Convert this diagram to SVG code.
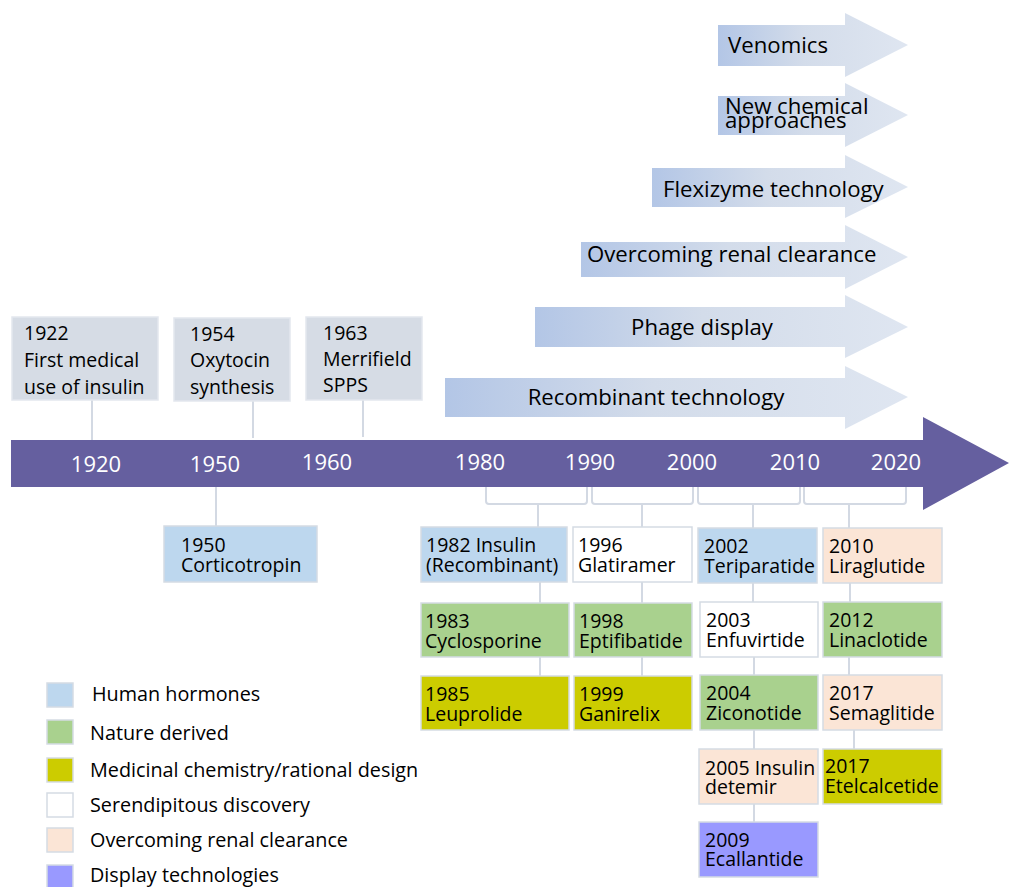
<svg xmlns="http://www.w3.org/2000/svg" width="1009" height="887" viewBox="0 0 1009 887">
<defs>
<linearGradient id="ag" x1="0" y1="0" x2="1" y2="0">
<stop offset="0" stop-color="#b3c6e6"/>
<stop offset="0.45" stop-color="#d3dcea"/>
<stop offset="1" stop-color="#dfe6f1"/>
</linearGradient>
<style>
.t{font-family:"Open Sans","Liberation Sans",sans-serif;font-size:19.5px;fill:#000}
.lg{font-size:19.8px}
.ar{font-size:22.2px}
.yr{font-family:"Open Sans","Liberation Sans",sans-serif;font-size:22px;fill:#fff;text-anchor:middle}
.box{stroke:#d5dbe4;stroke-width:1.5}
.ms{fill:#d6dce5;stroke:#e3e7ee;stroke-width:1.5}
.hh{fill:#bdd7ee}.nd{fill:#a9d18e}.mc{fill:#cccc00}.sd{fill:#ffffff}.rc{fill:#fbe5d6}.dt{fill:#9999ff}
.conn{stroke:#d3d9e3;stroke-width:2;fill:none}
.arrow{fill:url(#ag)}
</style>
</defs>
<rect width="1009" height="887" fill="#fff"/>

<g id="connectors">
<path class="conn" d="M92,400V440M253,401V438M363,400V437M216,487V526"/>
<path class="conn" d="M486,487V501Q486,504 489,504H584Q587,504 587,501V487M538,504V527"/>
<path class="conn" d="M592,487V501Q592,504 595,504H690Q693,504 693,501V487M642,504V527"/>
<path class="conn" d="M698,487V501Q698,504 701,504H797Q800,504 800,501V487M753,504V528"/>
<path class="conn" d="M804,487V501Q804,504 807,504H903Q906,504 906,501V487M849,504V528"/>
<path class="conn" d="M540,582V603M540,657V676M642,582V603M642,657V676"/>
<path class="conn" d="M753,583V602M754,657V675M754,730V749M754,804V822"/>
<path class="conn" d="M850,583V602M849,657V675M854,730V749"/>
</g>

<g id="tech-arrows">
<g id="arrow-venomics"><polygon class="arrow" points="718,25 845,25 845,13 908,45 845,77 845,66 718,66"/><text class="t ar" x="728" y="53">Venomics</text></g>
<g id="arrow-newchem"><polygon class="arrow" points="718,96 845,96 845,83 908,115 845,147 845,135 718,135"/><text class="t ar" x="725" y="114">New chemical<tspan x="725" dy="14">approaches</tspan></text></g>
<g id="arrow-flexizyme"><polygon class="arrow" points="652,168 845,168 845,155 908,187 845,218 845,207 652,207"/><text class="t ar" x="663" y="197">Flexizyme technology</text></g>
<g id="arrow-renal"><polygon class="arrow" points="581,242 845,242 845,225 908,257 845,289 845,277 581,277"/><text class="t ar" x="587" y="262">Overcoming renal clearance</text></g>
<g id="arrow-phage"><polygon class="arrow" points="535,307 845,307 845,295 908,327 845,358 845,347 535,347"/><text class="t ar" x="702" y="335" text-anchor="middle">Phage display</text></g>
<g id="arrow-recomb"><polygon class="arrow" points="445,378 845,378 845,366 908,397 845,429 845,417 445,417"/><text class="t ar" x="656" y="405" text-anchor="middle">Recombinant technology</text></g>
</g>

<g id="timeline">
<polygon points="11,440 923,440 923,417 1009,463 923,510 923,487 11,487" fill="#655f9f"/>
<text class="yr" x="96" y="472">1920</text>
<text class="yr" x="215" y="472">1950</text>
<text class="yr" x="327" y="470">1960</text>
<text class="yr" x="480" y="470">1980</text>
<text class="yr" x="590" y="470">1990</text>
<text class="yr" x="692" y="470">2000</text>
<text class="yr" x="795" y="470">2010</text>
<text class="yr" x="896" y="470">2020</text>
</g>

<g id="m1922"><rect class="ms" x="12" y="317" width="146" height="83"/><text class="t" x="24" y="340">1922<tspan x="24" dy="27">First medical</tspan><tspan x="24" dy="27">use of insulin</tspan></text></g>
<g id="m1954"><rect class="ms" x="174" y="318" width="116" height="83"/><text class="t" x="190" y="341">1954<tspan x="190" dy="26">Oxytocin</tspan><tspan x="190" dy="27">synthesis</tspan></text></g>
<g id="m1963"><rect class="ms" x="306" y="317" width="116" height="83"/><text class="t" x="323" y="340">1963<tspan x="323" dy="26">Merrifield</tspan><tspan x="323" dy="26">SPPS</tspan></text></g>

<g id="d1950"><rect class="box hh" x="164" y="526" width="153" height="56"/><text class="t" x="181" y="552">1950<tspan x="181" dy="20">Corticotropin</tspan></text></g>
<g id="d1982"><rect class="box hh" x="421" y="527" width="146" height="55"/><text class="t" x="426" y="552">1982 Insulin<tspan x="426" dy="20">(Recombinant)</tspan></text></g>
<g id="d1996"><rect class="box sd" x="573" y="527" width="119" height="55"/><text class="t" x="578" y="552">1996<tspan x="578" dy="20">Glatiramer</tspan></text></g>
<g id="d1983"><rect class="box nd" x="421" y="603" width="148" height="54"/><text class="t" x="425" y="628">1983<tspan x="425" dy="20">Cyclosporine</tspan></text></g>
<g id="d1998"><rect class="box nd" x="574" y="603" width="118" height="54"/><text class="t" x="579" y="628">1998<tspan x="579" dy="20">Eptifibatide</tspan></text></g>
<g id="d1985"><rect class="box mc" x="421" y="676" width="148" height="54"/><text class="t" x="425" y="701">1985<tspan x="425" dy="20">Leuprolide</tspan></text></g>
<g id="d1999"><rect class="box mc" x="574" y="676" width="118" height="54"/><text class="t" x="579" y="701">1999<tspan x="579" dy="20">Ganirelix</tspan></text></g>
<g id="d2002"><rect class="box hh" x="698" y="528" width="119" height="55"/><text class="t" x="704" y="553">2002<tspan x="704" dy="20">Teriparatide</tspan></text></g>
<g id="d2010"><rect class="box rc" x="823" y="528" width="119" height="55"/><text class="t" x="829" y="553">2010<tspan x="829" dy="20">Liraglutide</tspan></text></g>
<g id="d2003"><rect class="box sd" x="700" y="602" width="118" height="55"/><text class="t" x="706" y="627">2003<tspan x="706" dy="20">Enfuvirtide</tspan></text></g>
<g id="d2012"><rect class="box nd" x="823" y="602" width="119" height="55"/><text class="t" x="829" y="627">2012<tspan x="829" dy="20">Linaclotide</tspan></text></g>
<g id="d2004"><rect class="box nd" x="700" y="675" width="118" height="55"/><text class="t" x="706" y="700">2004<tspan x="706" dy="20">Ziconotide</tspan></text></g>
<g id="d2017s"><rect class="box rc" x="823" y="675" width="119" height="55"/><text class="t" x="829" y="700">2017<tspan x="829" dy="20">Semaglitide</tspan></text></g>
<g id="d2005"><rect class="box rc" x="699" y="749" width="119" height="55"/><text class="t" x="705" y="775">2005 Insulin<tspan x="705" dy="19">detemir</tspan></text></g>
<g id="d2017e"><rect class="box mc" x="823" y="749" width="119" height="55"/><text class="t" x="825" y="773">2017<tspan x="825" dy="20">Etelcalcetide</tspan></text></g>
<g id="d2009"><rect class="box dt" x="699" y="822" width="119" height="55"/><text class="t" x="705" y="847">2009<tspan x="705" dy="19">Ecallantide</tspan></text></g>

<g id="legend">
<rect class="box hh" x="47" y="683" width="26" height="24"/><text class="t lg" x="92" y="701">Human hormones</text>
<rect class="box nd" x="47" y="720" width="26" height="24"/><text class="t lg" x="90" y="740">Nature derived</text>
<rect class="box mc" x="47" y="758" width="26" height="24"/><text class="t lg" x="90" y="777">Medicinal chemistry/rational design</text>
<rect class="box sd" x="47" y="793" width="26" height="24"/><text class="t lg" x="90" y="812">Serendipitous discovery</text>
<rect class="box rc" x="47" y="828" width="26" height="24"/><text class="t lg" x="90" y="847">Overcoming renal clearance</text>
<rect class="box dt" x="47" y="865" width="26" height="24"/><text class="t lg" x="90" y="882">Display technologies</text>
</g>
</svg>
